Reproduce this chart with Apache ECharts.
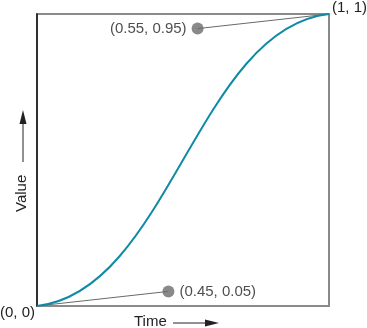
<!DOCTYPE html>
<html>
<head>
<meta charset="utf-8">
<script src="https://cdn.jsdelivr.net/npm/echarts@6/dist/echarts.min.js"></script>
<style>
html,body{margin:0;padding:0;background:#fff;}
#chart{width:367px;height:328px;}
</style>
</head>
<body>
<div id="chart"></div>
<script>
// Cubic Bézier easing: start, end and the two control points
var startPoint = [0, 0];
var endPoint = [1, 1];
var control1 = [0.45, 0.05];
var control2 = [0.55, 0.95];
var startLabel = '(0, 0)';
var endLabel = '(1, 1)';
var control1Label = '(0.45, 0.05)';
var control2Label = '(0.55, 0.95)';

var chart = echarts.init(document.getElementById('chart'));
var FONT = 'Liberation Sans, Arial, sans-serif';

chart.setOption({
  animation: false,
  grid: {
    left: 37, right: 38, top: 14, bottom: 22,
    show: true, borderColor: '#8a8a8a', borderWidth: 2
  },
  xAxis: {
    type: 'value', min: 0, max: 1,
    axisLine: { show: false }, axisTick: { show: false },
    axisLabel: { show: false }, splitLine: { show: false }
  },
  yAxis: {
    type: 'value', min: 0, max: 1,
    axisLine: { show: true, lineStyle: { color: '#111', width: 1.5 } },
    axisTick: { show: false },
    axisLabel: { show: false }, splitLine: { show: false }
  },
  series: [
    {
      // the easing curve itself
      type: 'custom',
      coordinateSystem: 'cartesian2d',
      data: [[startPoint[0], startPoint[1], control1[0], control1[1], control2[0], control2[1], endPoint[0], endPoint[1]]],
      renderItem: function (params, api) {
        var p0 = api.coord([api.value(0), api.value(1)]);
        var c1 = api.coord([api.value(2), api.value(3)]);
        var c2 = api.coord([api.value(4), api.value(5)]);
        var p1 = api.coord([api.value(6), api.value(7)]);
        return {
          type: 'bezierCurve',
          shape: { x1: p0[0], y1: p0[1], cpx1: c1[0], cpy1: c1[1], cpx2: c2[0], cpy2: c2[1], x2: p1[0], y2: p1[1] },
          style: { stroke: '#0f8aa6', lineWidth: 2, fill: null }
        };
      },
      z: 3
    },
    {
      // handle from the start point to the first control point
      type: 'line',
      data: [startPoint, control1],
      symbol: 'none',
      lineStyle: { color: '#6a6a6a', width: 1 },
      z: 2
    },
    {
      // handle from the end point to the second control point
      type: 'line',
      data: [endPoint, control2],
      symbol: 'none',
      lineStyle: { color: '#6a6a6a', width: 1 },
      z: 2
    },
    {
      type: 'scatter',
      data: [
        { value: control1, label: { position: 'right', formatter: control1Label } },
        { value: control2, label: { position: 'left', formatter: control2Label } }
      ],
      symbolSize: 12,
      itemStyle: { color: '#6b6b6b' },
      label: { show: true, color: '#222', fontSize: 15, fontFamily: FONT, distance: 5 },
      z: 4
    }
  ],
  graphic: [
    { type: 'text', left: 332, top: 0, style: { text: endLabel, fill: '#222', font: '15px ' + FONT } },
    { type: 'text', left: 0, top: 305, style: { text: startLabel, fill: '#222', font: '15px ' + FONT } },
    { type: 'text', left: 134, top: 314, style: { text: 'Time', fill: '#222', font: '15px ' + FONT } },
    { type: 'line', shape: { x1: 173, y1: 323, x2: 208, y2: 323 }, style: { stroke: '#222', lineWidth: 1 } },
    { type: 'polygon', shape: { points: [[219, 323], [205, 319.5], [205, 326.5]] }, style: { fill: '#222' } },
    { type: 'text', x: 22, y: 212, rotation: Math.PI / 2, style: { text: 'Value', fill: '#222', font: '15px ' + FONT, textVerticalAlign: 'middle', textAlign: 'left' } },
    { type: 'line', shape: { x1: 23, y1: 162, x2: 23, y2: 124 }, style: { stroke: '#222', lineWidth: 1 } },
    { type: 'polygon', shape: { points: [[23, 110], [19.5, 124], [26.5, 124]] }, style: { fill: '#222' } }
  ]
});
</script>
</body>
</html>
